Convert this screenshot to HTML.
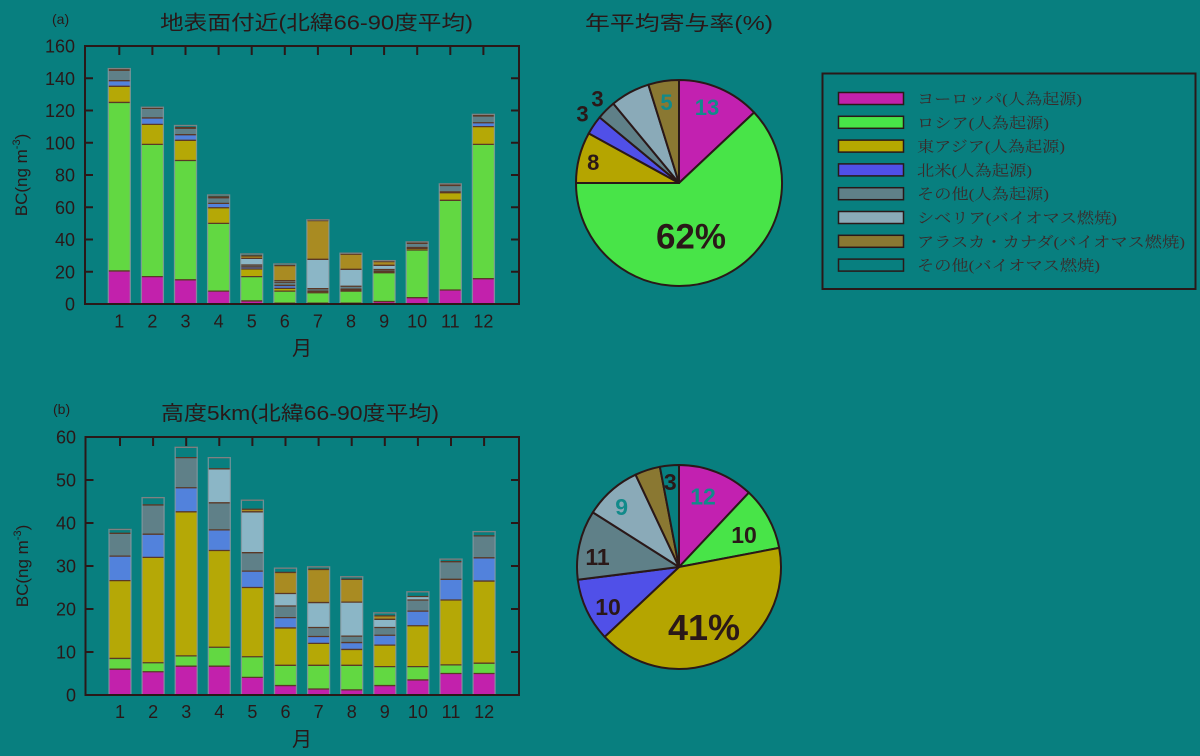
<!DOCTYPE html>
<html><head><meta charset="utf-8"><style>
html,body{margin:0;padding:0;background:#087f7f;}
svg{display:block;}
.t{font-family:"Liberation Sans","Noto Sans CJK JP",sans-serif;fill:#2a1818;}
.lg{font-family:"Liberation Serif","Noto Serif CJK SC",serif;fill:#3a2a2a;font-size:15px;}
.pl{font-family:"Liberation Sans",sans-serif;font-weight:bold;}
</style></head><body>
<svg id="s" width="1200" height="756" viewBox="0 0 1200 756" xmlns="http://www.w3.org/2000/svg">
<rect width="1200" height="756" fill="#087f7f"/>
<g id="barsA"></g>
<g id="barsB"></g>
<g id="pies"></g>
<rect x="85" y="46" width="434" height="258" fill="none" stroke="#2a1818" stroke-width="2"/>
<rect x="85.5" y="437" width="433.5" height="258" fill="none" stroke="#2a1818" stroke-width="2"/>
<g id="ticks" stroke="#2a1818" stroke-width="2"></g>

<text class="t" x="52" y="24" font-size="14">(a)</text>
<text class="t" x="160" y="29.5" font-size="20" textLength="313" lengthAdjust="spacingAndGlyphs">地表面付近(北緯66-90度平均)</text>
<text class="t" x="53" y="414" font-size="14">(b)</text>
<text class="t" x="161" y="420" font-size="20" textLength="278" lengthAdjust="spacingAndGlyphs">高度5km(北緯66-90度平均)</text>
<text class="t" x="585" y="30" font-size="20" textLength="188" lengthAdjust="spacingAndGlyphs">年平均寄与率(%)</text>

<g class="t" font-size="18" text-anchor="end">
<text x="75" y="52.5">160</text><text x="75" y="84.8">140</text><text x="75" y="117">120</text>
<text x="75" y="149.3">100</text><text x="75" y="181.5">80</text><text x="75" y="213.8">60</text>
<text x="75" y="246">40</text><text x="75" y="278.3">20</text><text x="75" y="310.5">0</text>
</g>
<g class="t" font-size="18" text-anchor="end">
<text x="76" y="443.5">60</text><text x="76" y="486.5">50</text><text x="76" y="529.5">40</text>
<text x="76" y="572.5">30</text><text x="76" y="615.5">20</text><text x="76" y="658.5">10</text>
<text x="76" y="701.5">0</text>
</g>
<g class="t" font-size="18" text-anchor="middle">
<text x="119.3" y="327.7">1</text><text x="152.4" y="327.7">2</text><text x="185.5" y="327.7">3</text>
<text x="218.6" y="327.7">4</text><text x="251.7" y="327.7">5</text><text x="284.8" y="327.7">6</text>
<text x="317.9" y="327.7">7</text><text x="351" y="327.7">8</text><text x="384.1" y="327.7">9</text>
<text x="417.2" y="327.7">10</text><text x="450.3" y="327.7">11</text><text x="483.4" y="327.7">12</text>
</g>
<g class="t" font-size="18" text-anchor="middle">
<text x="120" y="718">1</text><text x="153.1" y="718">2</text><text x="186.2" y="718">3</text>
<text x="219.3" y="718">4</text><text x="252.4" y="718">5</text><text x="285.5" y="718">6</text>
<text x="318.6" y="718">7</text><text x="351.7" y="718">8</text><text x="384.8" y="718">9</text>
<text x="417.9" y="718">10</text><text x="451" y="718">11</text><text x="484.1" y="718">12</text>
</g>
<text class="t" x="302" y="355" font-size="20" text-anchor="middle">月</text>
<text class="t" x="302" y="746" font-size="20" text-anchor="middle">月</text>
<text class="t" font-size="17" transform="translate(27,175) rotate(-90)" text-anchor="middle">BC(ng m<tspan font-size="11" dy="-7">-3</tspan><tspan dy="7">)</tspan></text>
<text class="t" font-size="17" transform="translate(28,566) rotate(-90)" text-anchor="middle">BC(ng m<tspan font-size="11" dy="-7">-3</tspan><tspan dy="7">)</tspan></text>

<g class="pl" text-anchor="middle">
<text x="707" y="115" font-size="22" fill="#128a8a">13</text>
<text x="666.5" y="110" font-size="22" fill="#128a8a">5</text>
<text x="597.5" y="106.5" font-size="22" fill="#2a1818">3</text>
<text x="582.5" y="121.5" font-size="22" fill="#2a1818">3</text>
<text x="593.3" y="170" font-size="22" fill="#2a1818">8</text>
<text x="691" y="248.3" font-size="35" fill="#2a1818">62%</text>
<text x="703" y="504.3" font-size="23" fill="#128a8a">12</text>
<text x="744" y="543" font-size="23" fill="#2a1818">10</text>
<text x="704" y="640" font-size="36" fill="#2a1818">41%</text>
<text x="608" y="615" font-size="23" fill="#2a1818">10</text>
<text x="597.5" y="565" font-size="23" fill="#2a1818">11</text>
<text x="621.7" y="515" font-size="23" fill="#128a8a">9</text>
<text x="670.3" y="490" font-size="23" fill="#2a1818">3</text>
</g>

<rect x="822.5" y="73.5" width="373" height="215.5" fill="none" stroke="#2a1818" stroke-width="2"/>
<g stroke="#2a1818" stroke-width="1.5">
<rect x="838.5" y="92.5" width="65" height="12" fill="#c221ac"/>
<rect x="838.5" y="116.3" width="65" height="12" fill="#48e448"/>
<rect x="838.5" y="140.1" width="65" height="12" fill="#b5a800"/>
<rect x="838.5" y="163.9" width="65" height="12" fill="#5050e8"/>
<rect x="838.5" y="187.7" width="65" height="12" fill="#5f8088"/>
<rect x="838.5" y="211.5" width="65" height="12" fill="#8aaab8"/>
<rect x="838.5" y="235.3" width="65" height="12" fill="#8a7832"/>
<rect x="838.5" y="259.1" width="65" height="12" fill="#087f7f"/>
</g>
<g class="lg">
<text x="917" y="104" textLength="165" lengthAdjust="spacingAndGlyphs">ヨーロッパ(人為起源)</text>
<text x="917" y="127.8" textLength="132" lengthAdjust="spacingAndGlyphs">ロシア(人為起源)</text>
<text x="917" y="151.6" textLength="148" lengthAdjust="spacingAndGlyphs">東アジア(人為起源)</text>
<text x="917" y="175.4" textLength="115" lengthAdjust="spacingAndGlyphs">北米(人為起源)</text>
<text x="917" y="199.2" textLength="132" lengthAdjust="spacingAndGlyphs">その他(人為起源)</text>
<text x="917" y="223" textLength="200" lengthAdjust="spacingAndGlyphs">シベリア(バイオマス燃焼)</text>
<text x="917" y="246.8" textLength="268" lengthAdjust="spacingAndGlyphs">アラスカ・カナダ(バイオマス燃焼)</text>
<text x="917" y="270.6" textLength="183" lengthAdjust="spacingAndGlyphs">その他(バイオマス燃焼)</text>
</g>
</svg>
<script>
(function(){
var NS="http://www.w3.org/2000/svg";
function el(p,n,a){var e=document.createElementNS(NS,n);for(var k in a)e.setAttribute(k,a[k]);p.appendChild(e);return e;}
var bcol=['#c221ac','#62d842','#b5a806','#5282dc','#5f8088','#8bb6c6','#a98b22','#087f7f'];
var A=[[20.5,125,135,138.5,145,145.2,145.4,146],[17,99,111.4,115.4,121.3,121.4,121.5,122],[15,89,101.5,105,109,109.2,109.4,110.7],[8,50,59.7,62.4,65.9,66.1,66.4,67.6],[1.9,17,21.7,23,24.2,28.3,29.8,31],[0.5,8,9.7,11.5,13.5,14.5,23.8,24.8],[0.5,7,7.7,8,9.5,27.7,51.7,52.2],[0.5,8,8.7,9.2,11,21.5,30.9,31.5],[1.5,19.4,19.9,20.4,21.4,24,26.3,26.9],[3.9,33.5,34.5,35,37.6,37.8,38,38.5],[8.7,64.3,69,69.5,73.5,73.7,73.9,74.5],[15.7,99,110,112.4,116.6,116.9,117.2,117.6]];
var B=[[6,8.5,26.6,32.3,37.6,37.6,37.6,38.5],[5.4,7.5,32,37.4,44.2,44.2,44.2,45.9],[6.7,9.1,42.6,48.2,55.2,55.2,55.2,57.6],[6.7,11.1,33.6,38.4,44.7,52.6,52.6,55.2],[4.1,8.9,25,28.8,33.1,42.6,43.2,45.3],[2.2,6.9,15.6,18,20.7,23.6,28.5,29.5],[1.4,6.9,12,13.6,15.7,21.5,29.2,29.8],[1.2,6.9,10.6,12.2,13.7,21.6,26.9,27.5],[2.2,6.6,11.6,13.9,15.7,17.6,18.4,19.1],[3.5,6.6,16.1,19.5,22.1,22.9,22.9,24],[5,7,22.1,26.9,31,31,31,31.6],[5,7.4,26.5,31.9,37,37,37,38]];
function drawBars(g,data,x0,base,sc){
 for(var i=0;i<12;i++){
  var cx=x0+33.1*i, w=22, prev=0, d=data[i];
  for(var j=0;j<8;j++){
   var v=d[j]; if(v-prev<=0){continue;}
   var y1=base-v*sc, y0=base-prev*sc;
   el(g,'rect',{x:cx-w/2,y:y1,width:w,height:y0-y1,fill:bcol[j]});
   prev=v;
  }
  prev=0;
  for(var j=0;j<8;j++){
   var v=d[j]; if(v-prev<=0){continue;}
   var y1=base-v*sc;
   el(g,'line',{x1:cx-w/2,x2:cx+w/2,y1:y1,y2:y1,stroke:'#5a3826','stroke-width':1.3});
   prev=v;
  }
  var top=base-d[7]*sc;
  el(g,'rect',{x:cx-w/2,y:top,width:w,height:base-top,fill:'none',stroke:'#8d9aa2','stroke-width':1.3,'stroke-opacity':0.75});
 }
}
drawBars(document.getElementById('barsA'),A,119.3,304,258/160);
drawBars(document.getElementById('barsB'),B,120,695,258/60);
var t=document.getElementById('ticks');
for(var i=0;i<12;i++){
 var x=119.3+33.1*i; el(t,'line',{x1:x,x2:x,y1:46,y2:55});
 var x2=120+33.1*i; el(t,'line',{x1:x2,x2:x2,y1:437,y2:446});
}
for(var v=20;v<160;v+=20){var y=304-v*258/160;el(t,'line',{x1:85,x2:93,y1:y,y2:y});el(t,'line',{x1:511,x2:519,y1:y,y2:y});}
for(var v=10;v<60;v+=10){var y=695-v*4.3;el(t,'line',{x1:85.5,x2:93.5,y1:y,y2:y});el(t,'line',{x1:511,x2:519,y1:y,y2:y});}
var pcol=['#c221b0','#48e448','#b5a500','#5050e8','#5f8088','#8aaab8','#8a7832','#087f7f'];
function pie(cx,cy,r,pcts){
 var g=document.getElementById('pies'), a=0;
 for(var i=0;i<pcts.length;i++){
  if(pcts[i]<=0)continue;
  var a2=a+pcts[i]*3.6;
  var r1=a*Math.PI/180, r2=a2*Math.PI/180;
  var x1=cx+r*Math.sin(r1), y1=cy-r*Math.cos(r1), x2=cx+r*Math.sin(r2), y2=cy-r*Math.cos(r2);
  var lg=(a2-a)>180?1:0;
  el(g,'path',{d:'M'+cx+','+cy+' L'+x1+','+y1+' A'+r+','+r+' 0 '+lg+' 1 '+x2+','+y2+' Z',fill:pcol[i],stroke:'#2a1818','stroke-width':2,'stroke-linejoin':'round'});
  a=a2;
 }
}
pie(679,183,103,[13,62,8,3,3,6.2,4.8,0]);
pie(679,567,102,[12,10,41,10,11,9,4,3]);
})();
</script>
</body></html>
